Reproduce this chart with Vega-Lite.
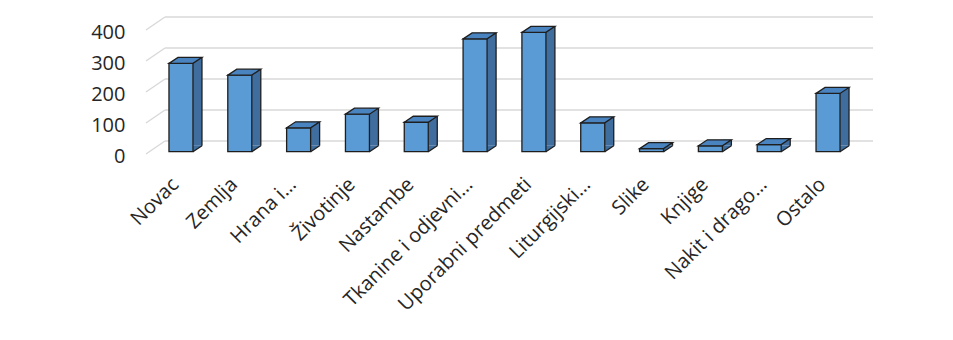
{
  "$schema": "https://vega.github.io/schema/vega-lite/v6.json",
  "autosize": "none",
  "width": 708,
  "height": 124,
  "padding": {"left": 146, "top": 30, "right": 99, "bottom": 186},
  "background": "white",
  "config": {
    "view": {"stroke": null},
    "font": "Open Sans",
    "axis": {"grid": false, "domain": false, "ticks": false, "labelColor": "#262626", "labelFontSize": 20, "labelFont": "Open Sans"},
    "axisX": {"labelAngle": -45, "labelAlign": "right", "labelBaseline": "middle", "labelPadding": 27, "labelOffset": -1},
    "axisY": {"labelPadding": 21, "labelOffset": 2, "tickCount": 5}
  },
  "datasets": {
    "items": [
      {"kategorija": "Novac", "broj": 285},
      {"kategorija": "Zemlja", "broj": 247},
      {"kategorija": "Hrana i…", "broj": 77},
      {"kategorija": "Životinje", "broj": 121},
      {"kategorija": "Nastambe", "broj": 95},
      {"kategorija": "Tkanine i odjevni…", "broj": 364},
      {"kategorija": "Uporabni predmeti", "broj": 385},
      {"kategorija": "Liturgijski…", "broj": 93},
      {"kategorija": "Slike", "broj": 10},
      {"kategorija": "Knjige", "broj": 19},
      {"kategorija": "Nakit i drago…", "broj": 23},
      {"kategorija": "Ostalo", "broj": 188}
    ],
    "ticks": [{"t": 0}, {"t": 100}, {"t": 200}, {"t": 300}, {"t": 400}]
  },
  "layer": [
    {
      "data": {"name": "ticks"},
      "mark": {"type": "rule", "color": "#d9d9d9", "strokeWidth": 1.5, "xOffset": -11.5, "x2Offset": 49.5, "yOffset": -13},
      "encoding": {
        "x": {
          "datum": "Novac", "type": "nominal", "title": null,
          "scale": {
            "domain": ["Novac", "Zemlja", "Hrana i…", "Životinje", "Nastambe", "Tkanine i odjevni…", "Uporabni predmeti", "Liturgijski…", "Slike", "Knjige", "Nakit i drago…", "Ostalo"],
            "paddingInner": 0, "paddingOuter": 0.018
          }
        },
        "x2": {"datum": "Ostalo"},
        "y": {
          "field": "t", "type": "quantitative", "title": null,
          "scale": {"domain": [0, 400], "nice": false},
          "axis": {"values": [0, 100, 200, 300, 400]}
        }
      }
    },
    {
      "data": {"name": "ticks"},
      "mark": {"type": "rule", "color": "#d9d9d9", "strokeWidth": 1.5, "xOffset": -30.5, "x2Offset": -11.5, "y2Offset": -13},
      "encoding": {
        "x": {"datum": "Novac", "type": "nominal", "title": null},
        "x2": {"datum": "Novac"},
        "y": {"field": "t", "type": "quantitative", "title": null},
        "y2": {"field": "t"}
      }
    },
    {
      "data": {"name": "items"},
      "mark": {"type": "bar", "width": 9, "xOffset": 21, "yOffset": -8.3, "y2Offset": -8.3, "fill": "#3e6d9e", "strokeWidth": 0},
      "encoding": {
        "x": {"field": "kategorija", "type": "nominal", "sort": null, "title": null},
        "y": {"field": "broj", "type": "quantitative", "title": null},
        "y2": {"datum": 0}
      }
    },
    {
      "data": {"name": "items"},
      "mark": {"type": "point", "shape": "M0,0 L0,-6 L9,-6 Z", "size": 4, "filled": true, "opacity": 1, "fill": "#3e6d9e", "strokeWidth": 0, "xOffset": 16.5, "yOffset": -2.3},
      "encoding": {
        "x": {"field": "kategorija", "type": "nominal", "sort": null, "title": null},
        "y": {"datum": 0, "type": "quantitative"}
      }
    },
    {
      "data": {"name": "items"},
      "mark": {"type": "bar", "width": 24, "xOffset": 4.5, "yOffset": -2.3, "y2Offset": -2.3, "fill": "#5b9bd5", "stroke": "#1e1e1e", "strokeWidth": 1.3},
      "encoding": {
        "x": {"field": "kategorija", "type": "nominal", "sort": null, "title": null},
        "y": {"field": "broj", "type": "quantitative", "title": null},
        "y2": {"datum": 0}
      }
    },
    {
      "data": {"name": "items"},
      "mark": {"type": "point", "shape": "M-12,0 L12,0 L21,-6 L-3,-6 Z", "size": 4, "filled": true, "opacity": 1, "fill": "#4a84c0", "stroke": "#1e1e1e", "strokeWidth": 1.3, "xOffset": 4.5, "yOffset": -2.3},
      "encoding": {
        "x": {"field": "kategorija", "type": "nominal", "sort": null, "title": null},
        "y": {"field": "broj", "type": "quantitative", "title": null}
      }
    },
    {
      "data": {"name": "items"},
      "mark": {"type": "rule", "color": "#1e1e1e", "strokeWidth": 1.3, "xOffset": 25.5, "yOffset": -8.3, "y2Offset": -8.3},
      "encoding": {
        "x": {"field": "kategorija", "type": "nominal", "sort": null, "title": null},
        "y": {"field": "broj", "type": "quantitative", "title": null},
        "y2": {"datum": 0}
      }
    },
    {
      "data": {"name": "items"},
      "mark": {"type": "point", "shape": "M0,0 L9,-6", "size": 4, "filled": false, "opacity": 1, "stroke": "#1e1e1e", "strokeWidth": 1.3, "xOffset": 16.5, "yOffset": -2.3},
      "encoding": {
        "x": {"field": "kategorija", "type": "nominal", "sort": null, "title": null},
        "y": {"datum": 0, "type": "quantitative"}
      }
    }
  ]
}
